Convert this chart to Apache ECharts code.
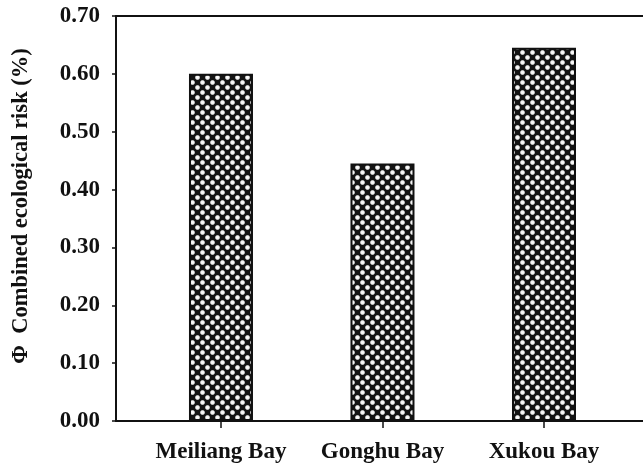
<!DOCTYPE html>
<html><head><meta charset="utf-8">
<script src="https://cdn.jsdelivr.net/npm/echarts@6/dist/echarts.min.js"></script>
<style>html,body{margin:0;padding:0;background:#fff}#c{width:643px;height:466px}</style>
</head><body><div id="c"></div>
<script>
const categories = ['Meiliang Bay', 'Gonghu Bay', 'Xukou Bay'];
const positions = [1, 2, 3];
const values = [0.60, 0.445, 0.645];
const yTickValues = [0.00, 0.10, 0.20, 0.30, 0.40, 0.50, 0.60, 0.70];
const yTitle = '\u03A6  Combined ecological risk (%)';

function makePattern() {
  const c = document.createElement('canvas');
  c.width = 10; c.height = 10;
  const g = c.getContext('2d');
  g.fillStyle = '#141414';
  g.fillRect(0, 0, 10, 10);
  const pts = [[2.5,2.5],[7.5,7.5]];
  pts.forEach(p => {
    const rg = g.createRadialGradient(p[0], p[1], 0, p[0], p[1], 2.9);
    rg.addColorStop(0, '#ffffff');
    rg.addColorStop(0.6, '#f0f0f0');
    rg.addColorStop(1, 'rgba(20,20,20,1)');
    g.fillStyle = rg;
    g.beginPath(); g.arc(p[0], p[1], 2.9, 0, Math.PI*2); g.fill();
  });
  return c;
}
const font = 'Liberation Serif';
const chart = echarts.init(document.getElementById('c'));
chart.setOption({
  animation: false,
  backgroundColor: '#fff',
  grid: { left: 116, top: 16, right: 0, bottom: 45, containLabel: false },
  xAxis: [{
    type: 'value', min: 0.35, max: 3.613, position: 'bottom',
    axisLine: { show: true, onZero: false, lineStyle: { color: '#111', width: 2 } },
    axisTick: { show: true, customValues: positions, length: 7, lineStyle: { color: '#111', width: 1.5 } },
    axisLabel: { customValues: positions, margin: 20, fontFamily: font, fontWeight: 'bold', fontSize: 23, color: '#111',
      formatter: v => categories[positions.indexOf(Math.round(v))] || '' },
    splitLine: { show: false }
  }, {
    type: 'value', min: 0.35, max: 3.613, position: 'top',
    axisLine: { show: true, onZero: false, lineStyle: { color: '#111', width: 2 } },
    axisTick: { show: false }, axisLabel: { show: false }, splitLine: { show: false }
  }],
  yAxis: {
    type: 'value', min: 0, max: 0.7, interval: 0.1,
    axisLine: { show: true, lineStyle: { color: '#111', width: 2 } },
    axisTick: { show: true, length: 4, lineStyle: { color: '#111', width: 1.5 } },
    axisLabel: { margin: 16, fontFamily: font, fontWeight: 'bold', fontSize: 23, color: '#111',
      formatter: v => { const t = yTickValues.find(x => Math.abs(x - v) < 1e-6); return (t !== undefined ? t : v).toFixed(2); } },
    splitLine: { show: false }
  },
  graphic: [{
    type: 'text', x: 21, y: 206, rotation: Math.PI / 2,
    style: { text: yTitle, fontFamily: font, fontWeight: 'bold', fontSize: 22.5, fill: '#111', align: 'center', verticalAlign: 'middle' }
  }],
  series: [{
    type: 'bar', xAxisIndex: 0, barWidth: 64,
    data: positions.map((p, i) => [p, values[i]]),
    itemStyle: { color: { image: makePattern(), repeat: 'repeat' }, borderColor: '#111', borderWidth: 2 }
  }]
});
</script></body></html>
